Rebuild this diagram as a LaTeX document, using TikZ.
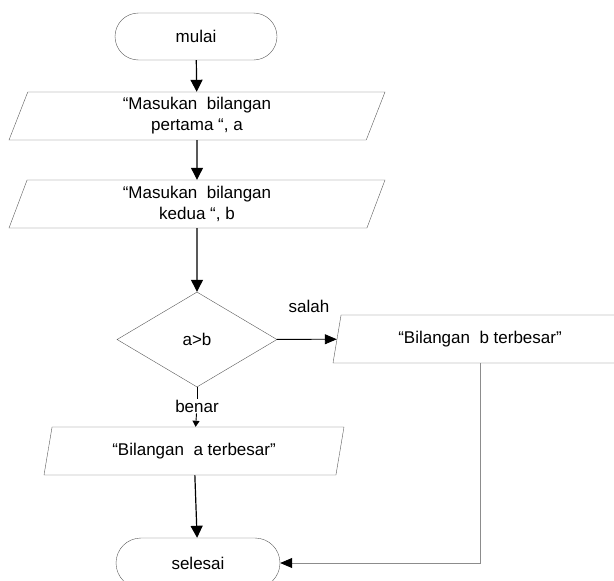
\documentclass[tikz,border=0pt]{standalone}
\usepackage{fontspec}
\setmainfont{Liberation Sans}
\usetikzlibrary{shapes.geometric,shapes.misc,arrows.meta}

\begin{document}
\begin{tikzpicture}[x=1pt,y=-1pt,
    font=\fontsize{17}{21}\selectfont,
    terminal/.style={rounded rectangle,draw=black!65,inner sep=0pt,
                     minimum width=162pt,minimum height=47pt},
    io/.style={trapezium,trapezium left angle=63,trapezium right angle=117,
               trapezium stretches body,draw=black!65,inner sep=0pt,
               minimum height=48pt,align=center},
    decision/.style={diamond,draw=black!65,inner sep=0pt,
                     minimum width=160pt,minimum height=95pt},
    flow/.style={draw=black,line width=1.2pt,-{Triangle[length=12pt,width=12pt]}},
    back/.style={draw=black!45,line width=0.8pt,
                 -{Triangle[length=12pt,width=10pt,color=black]}}]
  \useasboundingbox (0,0) rectangle (614,581);

  \node[terminal] (start) at (196,36.5) {mulai};
  \node[io,minimum width=376pt] (in1) at (197,116) {“Masukan~ bilangan\\pertama “, a};
  \node[io,minimum width=376pt] (in2) at (197,204) {“Masukan~ bilangan\\kedua “, b};
  \node[decision] (cmp) at (197,339.5) {a>b};
  \node[io,minimum width=294pt] (outb) at (480,339) {“Bilangan~ b terbesar”};
  \node[io,minimum width=300pt] (outa) at (194,451) {“Bilangan~ a terbesar”};
  \node[terminal,minimum width=164pt,minimum height=50pt] (stop) at (198,563) {selesai};

  % labels of the two branches
  \node (no) at (309,306) {salah};
  \node[fill=white,inner sep=1pt] (yes) at (197,406) {benar};

  \draw[flow] (start) -- (in1);
  \draw[flow] (in1) -- (in2);
  \draw[flow] (in2) -- (cmp);
  \draw[flow,line width=0.9pt,-{Triangle[length=12pt,width=10pt]}] (cmp) -- (outb);
  \draw[flow,line width=0.9pt,-] (cmp) -- (yes);
  \draw[flow,line width=0.9pt,-{Triangle[length=6pt,width=7pt]}] (yes) -- (outa);
  \draw[flow] (outa) -- (stop);
  \draw[back] (outb) |- (stop);
\end{tikzpicture}
\end{document}
